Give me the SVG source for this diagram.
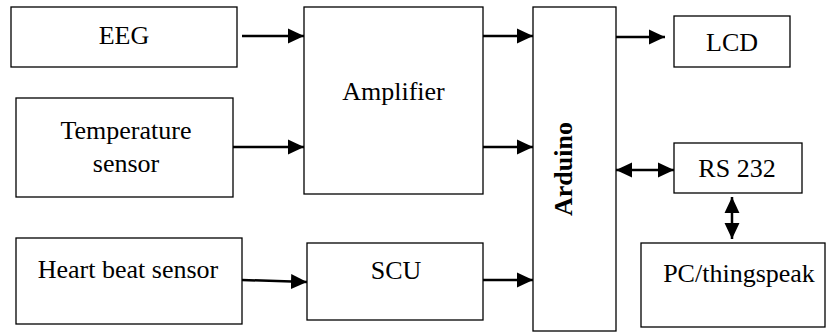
<svg xmlns="http://www.w3.org/2000/svg" width="826" height="332" viewBox="0 0 826 332">
<style>
.box{fill:#fff;stroke:#000;stroke-width:1.3}
.t{font-family:"Liberation Serif","Times New Roman",serif;font-size:26px;fill:#000;text-anchor:middle}
.b{font-weight:bold}
.c{stroke:#000;stroke-width:2.5;fill:none}
</style>
<defs>
<marker id="ah" markerUnits="userSpaceOnUse" markerWidth="16" markerHeight="16" viewBox="0 0 15 14" refX="15" refY="7" orient="auto-start-reverse">
<path d="M0,0 L15,7 L0,14 Z" fill="#000"/>
</marker>
</defs>
<rect width="826" height="332" fill="#fff"/>
<g id="eeg"><rect class="box" x="11" y="7" width="226" height="60"/><text class="t" x="124" y="44">EEG</text></g>
<g id="temp"><rect class="box" x="16" y="98" width="217" height="99"/><text class="t" x="126" y="139">Temperature</text><text class="t" x="126" y="172">sensor</text></g>
<g id="amp"><rect class="box" x="304" y="7" width="179" height="187"/><text class="t" x="393.5" y="100">Amplifier</text></g>
<g id="arduino"><rect class="box" x="533" y="7" width="83" height="324"/><text class="t b" transform="translate(572,169) rotate(-90)">Arduino</text></g>
<g id="lcd"><rect class="box" x="674" y="16" width="116" height="51"/><text class="t" x="732" y="51">LCD</text></g>
<g id="rs232"><rect class="box" x="674" y="143" width="128" height="50"/><text class="t" x="737" y="177">RS 232</text></g>
<g id="pc"><rect class="box" x="641" y="243" width="184" height="84"/><text class="t" x="739" y="282">PC/thingspeak</text></g>
<g id="heart"><rect class="box" x="16" y="238" width="226" height="86"/><text class="t" x="128" y="278">Heart beat sensor</text></g>
<g id="scu"><rect class="box" x="307" y="243" width="176" height="77"/><text class="t" x="396" y="279">SCU</text></g>
<g id="connectors">
<line class="c" x1="242" y1="36" x2="304" y2="36" marker-end="url(#ah)"/>
<line class="c" x1="233" y1="147" x2="304" y2="147" marker-end="url(#ah)"/>
<line class="c" x1="483" y1="36" x2="533" y2="36" marker-end="url(#ah)"/>
<line class="c" x1="483" y1="147" x2="533" y2="147" marker-end="url(#ah)"/>
<line class="c" x1="616" y1="37" x2="665" y2="37" marker-end="url(#ah)"/>
<line class="c" x1="616" y1="170" x2="674" y2="170" marker-start="url(#ah)" marker-end="url(#ah)"/>
<line class="c" x1="732" y1="197" x2="732" y2="239" marker-start="url(#ah)" marker-end="url(#ah)"/>
<line class="c" x1="242" y1="280" x2="307" y2="282" marker-end="url(#ah)"/>
<line class="c" x1="483" y1="280" x2="533" y2="280" marker-end="url(#ah)"/>
</g>
</svg>
